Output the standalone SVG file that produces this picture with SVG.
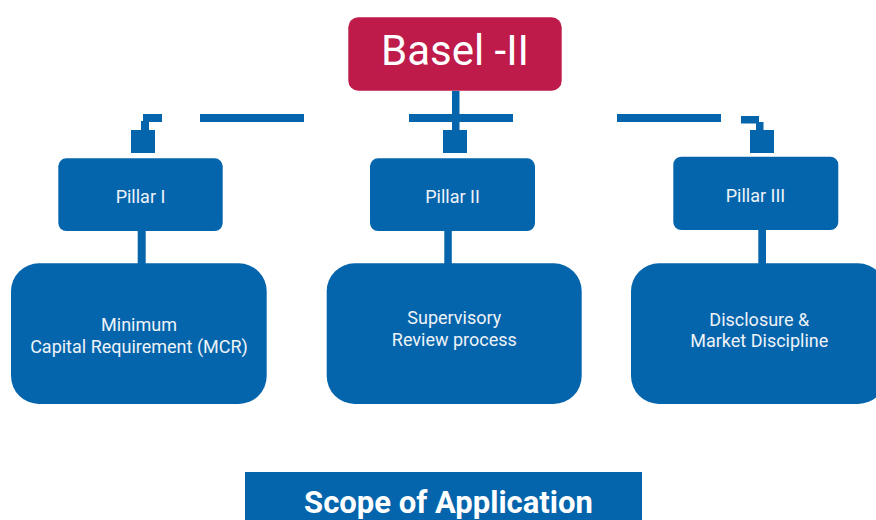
<svg xmlns="http://www.w3.org/2000/svg" width="876" height="520" viewBox="0 0 876 520">
<style>
.blue{fill:#0565AC}
.red{fill:#BE1A4A}
.t{font-family:Roboto,"Liberation Sans",sans-serif;fill:#EEF3F8;text-anchor:middle}
.s{font-size:18px}
</style>
<rect width="876" height="520" fill="#FFFFFF"/>
<g id="connectors" class="blue">
<rect x="452" y="91" width="7.5" height="24"/>
<rect x="143" y="114" width="19" height="8"/>
<rect x="200" y="114" width="104" height="8"/>
<rect x="409" y="114" width="104" height="8"/>
<rect x="617" y="114" width="104" height="8"/>
<rect x="741" y="116" width="18" height="7.5"/>
<rect x="141" y="121" width="8" height="10"/>
<rect x="131" y="130" width="24" height="23"/>
<rect x="452" y="121" width="7.5" height="10"/>
<rect x="443" y="130" width="24" height="23"/>
<rect x="756" y="122" width="7.5" height="9"/>
<rect x="750" y="130" width="24" height="23"/>
<rect x="137.7" y="230" width="8" height="34"/>
<rect x="444.3" y="230" width="7.5" height="34"/>
<rect x="758.3" y="229" width="7.7" height="35"/>
</g>
<g id="basel">
<rect class="red" x="348.3" y="17.3" width="213.4" height="73.4" rx="10"/>
<text class="t" x="455" y="65" style="font-size:42px;fill:#FFFFFF">Basel -II</text>
</g>
<g id="pillar1">
<rect class="blue" x="58.3" y="158.3" width="164.4" height="72.7" rx="8"/>
<text class="t s" x="140.5" y="202.7">Pillar I</text>
</g>
<g id="pillar2">
<rect class="blue" x="370" y="158.3" width="165" height="72.7" rx="8"/>
<text class="t s" x="452.5" y="203.3">Pillar II</text>
</g>
<g id="pillar3">
<rect class="blue" x="673.3" y="156.7" width="165" height="73.3" rx="8"/>
<text class="t s" x="755.5" y="201.7">Pillar III</text>
</g>
<g id="mcr">
<rect class="blue" x="11" y="263.3" width="255.7" height="140.7" rx="28"/>
<text class="t s" x="139" y="331">Minimum</text>
<text class="t s" x="139" y="353.3">Capital Requirement (MCR)</text>
</g>
<g id="review">
<rect class="blue" x="326.7" y="263.3" width="255" height="140.7" rx="28"/>
<text class="t s" x="454.3" y="324.3">Supervisory</text>
<text class="t s" x="454.3" y="345.5">Review process</text>
</g>
<g id="disclosure">
<rect class="blue" x="631" y="263.3" width="255" height="140.7" rx="28"/>
<text class="t s" x="759.3" y="325.7">Disclosure &amp;</text>
<text class="t s" x="759.3" y="346.7">Market Discipline</text>
</g>
<g id="scope">
<rect class="blue" x="245" y="472" width="397" height="50"/>
<text class="t" x="448.5" y="512.7" style="font-size:31px;font-weight:bold;fill:#FFFFFF">Scope of Application</text>
</g>
</svg>
